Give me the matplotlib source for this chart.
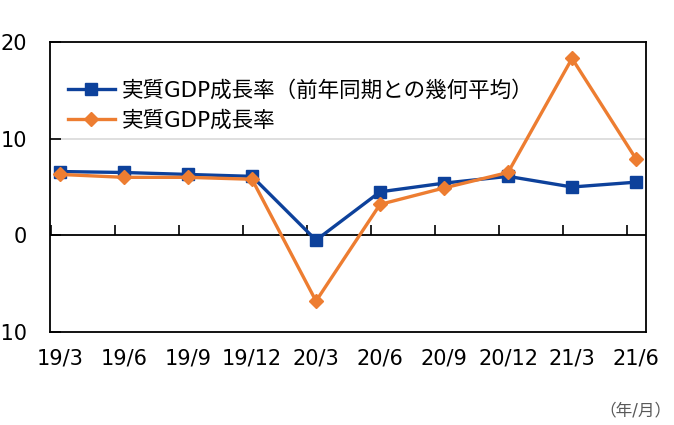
import matplotlib
matplotlib.use("Agg")
from matplotlib import pyplot as plt

plt.rcParams['font.family'] = ['DejaVu Sans', 'Noto Sans CJK JP']

# 四半期ラベルとデータ（前年同期比, %）
quarters = ['19/3', '19/6', '19/9', '19/12', '20/3', '20/6', '20/9', '20/12', '21/3', '21/6']
gdp_geo_avg = [6.6, 6.5, 6.3, 6.1, -0.5, 4.5, 5.4, 6.1, 5.0, 5.5]
gdp_growth = [6.3, 6.0, 6.0, 5.8, -6.8, 3.2, 4.9, 6.5, 18.3, 7.9]
y_ticks = [-10, 0, 10, 20]

blue = '#0D419B'
orange = '#ED7D31'

fig = plt.figure(figsize=(6.74, 4.25), dpi=100)
ax = fig.add_axes([0.0742, 0.2188, 0.8843, 0.6824])

x = list(range(len(quarters)))
ax.plot(x, gdp_geo_avg, color=blue, lw=2.4, marker='s', ms=8,
        label='実質GDP成長率（前年同期との幾何平均）', zorder=4)
ax.plot(x, gdp_growth, color=orange, lw=2.4, marker='D', ms=7,
        label='実質GDP成長率', zorder=5)

ax.set_ylim(-10, 20)
ax.set_xlim(-0.156, 9.156)
ax.set_yticks(y_ticks)
ax.set_yticklabels([str(v) for v in y_ticks])
ax.tick_params(axis='y', direction='in', length=8, width=1.2, pad=16.5,
               labelsize=15, colors='black')
for s in ax.spines.values():
    s.set_linewidth(1.3)

# 10 の補助線とゼロ線
ax.axhline(10, color='#D9D9D9', lw=1.2, zorder=1)
ax.axhline(0, color='black', lw=1.3, zorder=2)

# 目盛ラベル（下端）
ax.set_xticks(x)
ax.set_xticklabels(quarters)
ax.tick_params(axis='x', length=0, pad=12, labelsize=15)

# ゼロ線上の区切り目盛
sec = ax.secondary_xaxis(1 / 3)
sec.set_xticks([i - 0.14 for i in x])
sec.tick_params(axis='x', direction='in', length=7, width=1.2, labelbottom=False)
sec.spines['bottom'].set_visible(False)

leg = ax.legend(loc='upper left', bbox_to_anchor=(0.015, 0.9), frameon=False,
                fontsize=15.5, handlelength=2.2, handletextpad=0.3,
                labelspacing=0.45, borderaxespad=0)

fig.text(0.997, 0.035, '（年/月）', fontsize=12, color='#595959', ha='right', va='center')

fig.savefig('out.png', dpi=100)
